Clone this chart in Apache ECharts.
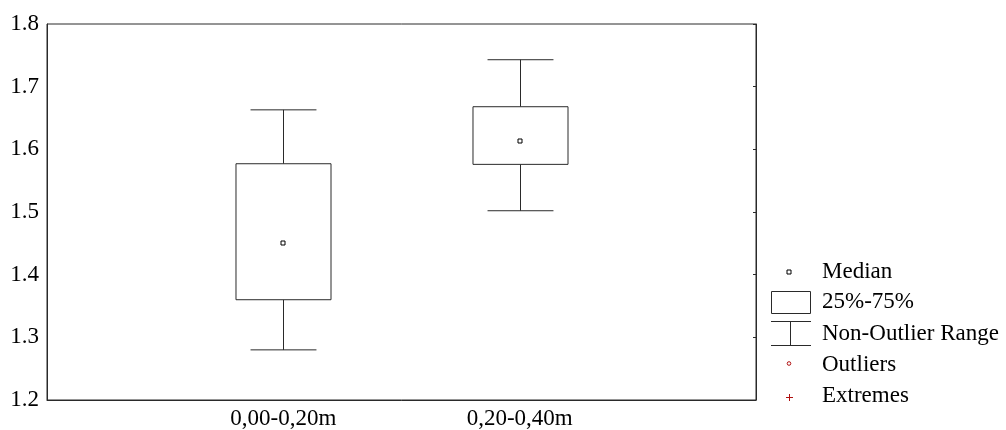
<!DOCTYPE html>
<html>
<head>
<meta charset="utf-8">
<script src="https://cdn.jsdelivr.net/npm/echarts@6/dist/echarts.min.js"></script>
<style>html,body{margin:0;padding:0;background:#fff}#c{width:1006px;height:430px}</style>
</head>
<body>
<div id="c"></div>
<script>
var categories = ['0,00-0,20m', '0,20-0,40m'];
var lowWhisker = [1.280, 1.502];
var q1 = [1.360, 1.576];
var median = [1.450, 1.613];
var q3 = [1.577, 1.668];
var highWhisker = [1.663, 1.743];
var yTicks = [1.2, 1.3, 1.4, 1.5, 1.6, 1.7, 1.8];
var legendLabels = ['Median', '25%-75%', 'Non-Outlier Range', 'Outliers', 'Extremes'];

var FONT = 'Liberation Serif';
var FS = 23;
var LINE = '#2a2a2a';
var RED = '#b01010';
var axisCats = [''].concat(categories).concat(['']);
var data = categories.map(function (c, i) {
  return [i + 1, lowWhisker[i], q1[i], median[i], q3[i], highWhisker[i]];
});

var chart = echarts.init(document.getElementById('c'), null, {renderer: 'canvas'});

function renderBox(params, api) {
  var xi = api.value(0);
  var band = api.size([1, 0])[0];
  var boxW = band * 0.402;
  var capW = band * 0.279;
  var pLo = api.coord([xi, api.value(1)]);
  var pQ1 = api.coord([xi, api.value(2)]);
  var pMed = api.coord([xi, api.value(3)]);
  var pQ3 = api.coord([xi, api.value(4)]);
  var pHi = api.coord([xi, api.value(5)]);
  var cx = Math.round(pMed[0]) + 0.5;
  var st = {stroke: LINE, lineWidth: 1, fill: null};
  return {
    type: 'group',
    children: [
      {type: 'line', shape: {x1: cx, y1: pHi[1], x2: cx, y2: pQ3[1]}, style: st},
      {type: 'line', shape: {x1: cx, y1: pQ1[1], x2: cx, y2: pLo[1]}, style: st},
      {type: 'line', shape: {x1: cx - capW / 2, y1: pHi[1], x2: cx + capW / 2, y2: pHi[1]}, style: st},
      {type: 'line', shape: {x1: cx - capW / 2, y1: pLo[1], x2: cx + capW / 2, y2: pLo[1]}, style: st},
      {type: 'rect', shape: {x: cx - boxW / 2, y: pQ3[1], width: boxW, height: pQ1[1] - pQ3[1]},
        style: {stroke: LINE, lineWidth: 1, fill: '#fff'}},
      {type: 'rect', shape: {x: cx - 2.5, y: Math.round(pMed[1]) - 2, width: 4, height: 4},
        style: {stroke: '#000', lineWidth: 1, fill: '#fff'}}
    ]
  };
}

var LX = 789, TX = 822;
var legendY = [272, 302, 334, 365, 396];
var graphics = [
  {type: 'rect', shape: {x: LX - 2, y: legendY[0] - 2, width: 4, height: 4}, style: {stroke: '#000', lineWidth: 1, fill: '#fff'}},
  {type: 'rect', shape: {x: 771.5, y: 291.5, width: 39, height: 22}, style: {stroke: LINE, lineWidth: 1, fill: '#fff'}},
  {type: 'line', shape: {x1: 771, y1: 321.5, x2: 811, y2: 321.5}, style: {stroke: LINE, lineWidth: 1}},
  {type: 'line', shape: {x1: 771, y1: 345.5, x2: 811, y2: 345.5}, style: {stroke: LINE, lineWidth: 1}},
  {type: 'line', shape: {x1: 790.5, y1: 321.5, x2: 790.5, y2: 345.5}, style: {stroke: LINE, lineWidth: 1}},
  {type: 'circle', shape: {cx: LX, cy: 363.5, r: 1.8}, style: {stroke: RED, lineWidth: 1, fill: '#fff'}},
  {type: 'line', shape: {x1: LX - 3, y1: 397.5, x2: LX + 4, y2: 397.5}, style: {stroke: RED, lineWidth: 1}},
  {type: 'line', shape: {x1: LX + 0.5, y1: 394, x2: LX + 0.5, y2: 401}, style: {stroke: RED, lineWidth: 1}}
];
legendLabels.forEach(function (t, i) {
  graphics.push({type: 'text', x: TX, y: legendY[i],
    style: {text: t, font: FS + 'px "' + FONT + '"', fill: '#000', textVerticalAlign: 'middle', textAlign: 'left'}});
});

chart.setOption({
  animation: false,
  backgroundColor: '#fff',
  grid: {left: 47, right: 250, top: 24, bottom: 30, show: true, borderColor: LINE, borderWidth: 1, backgroundColor: 'transparent'},
  xAxis: {
    type: 'category', data: axisCats, boundaryGap: false,
    axisLine: {show: true, lineStyle: {color: LINE, width: 1}},
    axisTick: {show: false},
    splitLine: {show: false},
    axisLabel: {color: '#000', fontFamily: FONT, fontSize: FS, margin: 7, interval: 0}
  },
  yAxis: [{
    type: 'value', min: 1.2, max: 1.8, interval: 0.1,
    axisLine: {show: true, lineStyle: {color: LINE, width: 1}},
    axisTick: {show: false},
    splitLine: {show: false},
    axisLabel: {color: '#000', fontFamily: FONT, fontSize: FS, margin: 8,
      formatter: function (v) { var r = Math.round(v * 10) / 10; return yTicks.indexOf(r) >= 0 ? r.toFixed(1) : ''; }}
  }, {
    type: 'value', min: 1.2, max: 1.8, interval: 0.1, position: 'right',
    axisLine: {show: true, lineStyle: {color: LINE, width: 1}},
    axisTick: {show: true, inside: true, length: 3, lineStyle: {color: LINE}},
    splitLine: {show: false},
    axisLabel: {show: false}
  }],
  series: [{
    type: 'custom',
    renderItem: renderBox,
    encode: {x: 0, y: [1, 2, 3, 4, 5]},
    data: data,
    clip: false
  }],
  graphic: graphics
});
</script>
</body>
</html>
